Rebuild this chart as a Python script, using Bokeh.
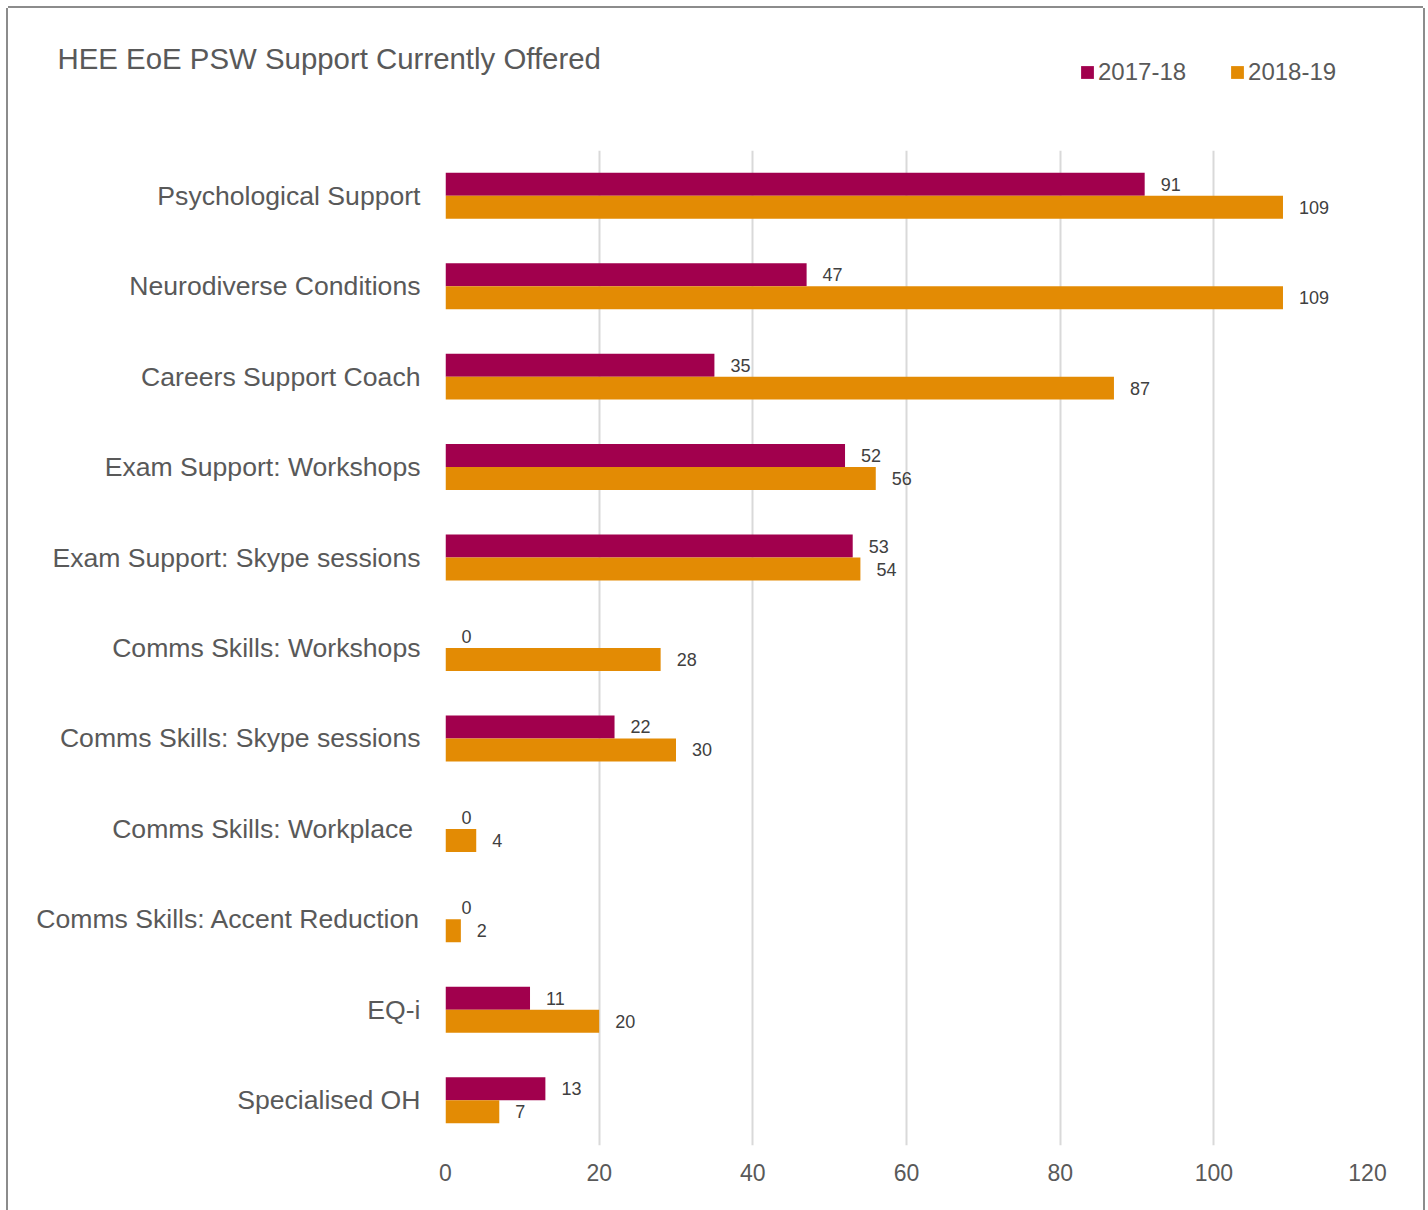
from bokeh.plotting import figure
from bokeh.layouts import column
from bokeh.models import (ColumnDataSource, Range1d, FactorRange, FixedTicker, LabelSet,
                          Label, Legend, LegendItem)
from bokeh.transform import dodge
from bokeh.core.properties import value
from bokeh.embed import file_html
from bokeh.resources import INLINE

categories = [
    "Psychological Support",
    "Neurodiverse Conditions",
    "Careers Support Coach",
    "Exam Support: Workshops",
    "Exam Support: Skype sessions",
    "Comms Skills: Workshops",
    "Comms Skills: Skype sessions",
    "Comms Skills: Workplace ",
    "Comms Skills: Accent Reduction",
    "EQ-i",
    "Specialised OH",
]
series_names = ["2017-18", "2018-19"]
values_2017_18 = [91, 47, 35, 52, 53, 0, 22, 0, 0, 11, 13]
values_2018_19 = [109, 109, 87, 56, 54, 28, 30, 4, 2, 20, 7]
x_ticks = [0, 20, 40, 60, 80, 100, 120]
title_text = "HEE EoE PSW Support Currently Offered"

FONT = "Liberation Sans"
TEXT = "#595959"
C1 = "#A1004D"
C2 = "#E38B04"
W = 1415

src = ColumnDataSource(dict(cat=categories, v1=values_2017_18, v2=values_2018_19,
                            l1=[str(v) for v in values_2017_18],
                            l2=[str(v) for v in values_2018_19]))

# ---- header (title + legend) ----
head = figure(width=W, height=142, output_backend="svg", toolbar_location=None,
              x_range=Range1d(0, 1), y_range=Range1d(0, 1),
              min_border=0, title=None)
if "frame_align" in head.properties():
    head.frame_align = False
head.axis.visible = False
head.grid.visible = False
head.outline_line_color = None
head.background_fill_color = "white"
head.border_fill_color = "white"

head.add_layout(Label(x=49, y=92, x_units="screen", y_units="screen", text=title_text,
                      text_font=FONT, text_font_size="29.4px", text_color=TEXT,
                      text_align="left", text_baseline="alphabetic"))

# legend keys: the series' bars, hidden in the header (the chart below draws them)
k1 = head.hbar(y=0, left=0, right="v1", height=0.1, source=src, fill_color=C1,
               line_color=None, visible=False)
k2 = head.hbar(y=0, left=0, right="v2", height=0.1, source=src, fill_color=C2,
               line_color=None, visible=False)
legend = Legend(items=[LegendItem(label=series_names[0], renderers=[k1]),
                       LegendItem(label=series_names[1], renderers=[k2])],
                location=(1071, 64), orientation="horizontal",
                glyph_width=16, glyph_height=16, label_standoff=3, spacing=43,
                padding=0, margin=0, border_line_color=None, background_fill_alpha=0,
                inactive_fill_alpha=0,
                label_text_font=FONT, label_text_font_size="24px", label_text_color=TEXT)
head.add_layout(legend)

# ---- chart ----
p = figure(width=W, height=1060, output_backend="svg", toolbar_location=None,
           y_range=FactorRange(*list(reversed(categories))),
           x_range=Range1d(0, 120), title=None,
           min_border_left=437, min_border_right=56, min_border_top=0, min_border_bottom=65)
if "frame_align" in p.properties():
    p.frame_align = False
p.outline_line_color = None
p.background_fill_color = "white"
p.border_fill_color = "white"

p.hbar(y=dodge("cat", 0.127, range=p.y_range), left=0, right="v1", height=0.254,
       source=src, fill_color=C1, line_color=None)
p.hbar(y=dodge("cat", -0.127, range=p.y_range), left=0, right="v2", height=0.254,
       source=src, fill_color=C2, line_color=None)

for col, lab, off in (("v1", "l1", 0.127), ("v2", "l2", -0.127)):
    ls = LabelSet(x=col, y=dodge("cat", off, range=p.y_range), text=lab, source=src,
                  x_offset=16, text_align="left", text_baseline="middle",
                  text_font=value(FONT), text_font_size="18px", text_color="#404040")
    p.add_layout(ls)

p.xaxis.ticker = FixedTicker(ticks=x_ticks)
p.xaxis.axis_line_color = None
p.xaxis.major_tick_line_color = None
p.xaxis.minor_tick_line_color = None
p.xaxis.major_label_text_font = FONT
p.xaxis.major_label_text_font_size = "23px"
p.xaxis.major_label_text_color = TEXT
p.xaxis.major_label_standoff = 12

p.yaxis.axis_line_color = None
p.yaxis.major_tick_line_color = None
p.yaxis.minor_tick_line_color = None
p.yaxis.major_label_text_font = FONT
p.yaxis.major_label_text_font_size = "26.6px"
p.yaxis.major_label_text_color = TEXT
p.yaxis.major_label_standoff = 19

p.xgrid.grid_line_color = "#d9d9d9"
p.xgrid.grid_line_width = 2
p.ygrid.grid_line_color = None

page = column(head, p, spacing=0,
              styles={"margin-left": "8px", "margin-top": "8px",
                      "box-shadow": "-2px 0 0 0 #8c8c8c, 2px 0 0 0 #8c8c8c, 0 -2px 0 0 #8c8c8c"})

open("out.html", "w").write(file_html(page, INLINE))
